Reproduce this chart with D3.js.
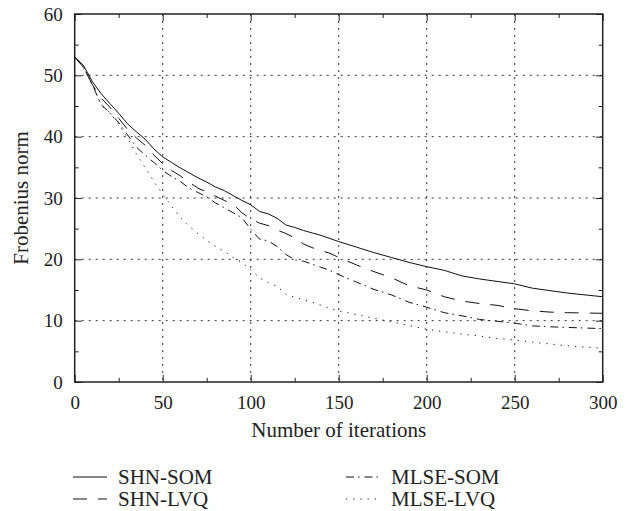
<!DOCTYPE html>
<html lang="en">
<head>
<meta charset="UTF-8">
<title>Frobenius norm</title>
<script src="https://cdn.jsdelivr.net/npm/d3@7"></script>
<style>
  body { margin: 0; background: #fff; }
  text { font-family: "Liberation Serif", "DejaVu Serif", serif; fill: #222; }
  .axis path { display: none; }
  .axis line { stroke: #222; stroke-width: 1; }
</style>
</head>
<body>
<div id="chart"></div>
<script>
// iterations (x) shared by all four curves
var iters = [0,5,10,15,20,25,30,35,40,45,50,55,60,65,70,75,80,85,90,95,100,
    105,110,115,120,125,130,135,140,145,150,160,170,180,190,200,210,220,230,240,250,260,270,280,290,300];

var shnSom  = [53.0,51.6,49.0,47.0,45.4,43.8,42.1,40.8,39.6,38.0,36.7,35.8,34.9,34.1,33.3,32.6,31.8,31.2,30.4,29.6,28.9,
    27.8,27.4,26.7,25.6,25.2,24.7,24.3,23.9,23.4,22.9,22.0,21.1,20.3,19.5,18.8,18.2,17.3,16.8,16.4,16.0,15.3,14.9,14.5,14.2,13.9];
var shnLvq  = [53.0,51.3,48.5,46.3,44.8,43.0,41.2,39.8,38.6,37.0,35.6,34.5,33.6,32.6,31.6,31.0,30.3,29.6,29.0,27.6,26.6,
    25.9,25.5,24.8,24.2,23.5,22.5,21.9,21.4,21.0,20.3,19.1,18.0,17.0,15.7,15.0,13.9,13.2,12.8,12.5,11.95,11.6,11.4,11.3,11.25,11.2];
var mlseSom = [53.0,51.3,48.5,45.2,43.9,42.3,40.3,38.3,37.0,35.8,34.5,33.5,32.7,31.6,30.9,30.2,29.2,28.4,27.6,26.8,24.9,
    23.3,23.0,22.1,20.8,19.9,19.7,19.2,18.7,18.2,17.5,16.3,15.1,14.2,13.0,12.2,11.3,10.8,10.2,9.9,9.6,9.15,9.0,8.9,8.8,8.7];
var mlseLvq = [53.0,51.3,48.5,45.2,43.9,42.0,39.8,37.2,35.0,32.7,30.6,28.7,26.8,25.4,24.2,23.1,22.1,21.3,20.3,19.5,18.3,
    17.0,16.2,15.6,14.3,13.8,13.4,13.0,12.5,12.0,11.6,11.0,10.4,9.8,9.2,8.6,8.2,7.8,7.5,7.1,6.85,6.5,6.2,5.9,5.7,5.5];

var seriesNames = ["SHN-SOM","SHN-LVQ","MLSE-SOM","MLSE-LVQ"];
var seriesVals  = [shnSom, shnLvq, mlseSom, mlseLvq];

var xTicks = [0,50,100,150,200,250,300];
var xMinor = [25,75,125,175,225,275];
var yTicks = [0,10,20,30,40,50,60];
var yMinor = [5,15,25,35,45,55];

// line styles per series
var dashes = ["none", "14,11", "8,4,1.5,5", "1.2,6"];

var width = 633, height = 511;
var margin = {top:14, left:74.7, right:30.3, bottom:129};
var plotW = width - margin.left - margin.right;
var plotH = height - margin.top - margin.bottom;

var svg = d3.select("#chart").append("svg")
    .attr("width", width)
    .attr("height", height);

var g = svg.append("g")
    .attr("transform", "translate(" + margin.left + "," + margin.top + ")");

var x = d3.scaleLinear().domain([0,300]).range([0, plotW]);
var y = d3.scaleLinear().domain([0,60]).range([plotH, 0]);

// dotted grid
g.append("g").selectAll("line").data(xTicks.slice(1,-1)).enter().append("line")
    .attr("x1", function(d){ return x(d); }).attr("x2", function(d){ return x(d); })
    .attr("y1", 0).attr("y2", plotH)
    .attr("stroke", "#333").attr("stroke-width", 1).attr("stroke-dasharray", "2,5");
g.append("g").selectAll("line").data(yTicks.slice(1,-1)).enter().append("line")
    .attr("y1", function(d){ return y(d); }).attr("y2", function(d){ return y(d); })
    .attr("x1", 0).attr("x2", plotW)
    .attr("stroke", "#333").attr("stroke-width", 1).attr("stroke-dasharray", "2,5");

// axes: labelled majors bottom/left, inward ticks everywhere
var bottom = g.append("g").attr("class","axis").attr("transform","translate(0," + plotH + ")")
    .call(d3.axisBottom(x).tickValues(xTicks).tickSizeInner(-7).tickPadding(14).tickFormat(d3.format("d")));
var left = g.append("g").attr("class","axis")
    .call(d3.axisLeft(y).tickValues(yTicks).tickSizeInner(-7).tickPadding(12).tickFormat(d3.format("d")));
g.append("g").attr("class","axis").attr("transform","translate(0," + plotH + ")")
    .call(d3.axisBottom(x).tickValues(xMinor).tickSizeInner(-4).tickFormat(""));
g.append("g").attr("class","axis")
    .call(d3.axisLeft(y).tickValues(yMinor).tickSizeInner(-4).tickFormat(""));
g.append("g").attr("class","axis")
    .call(d3.axisTop(x).tickValues(xTicks).tickSizeInner(-7).tickFormat(""));
g.append("g").attr("class","axis")
    .call(d3.axisTop(x).tickValues(xMinor).tickSizeInner(-4).tickFormat(""));
g.append("g").attr("class","axis").attr("transform","translate(" + plotW + ",0)")
    .call(d3.axisRight(y).tickValues(yTicks).tickSizeInner(-7).tickFormat(""));
g.append("g").attr("class","axis").attr("transform","translate(" + plotW + ",0)")
    .call(d3.axisRight(y).tickValues(yMinor).tickSizeInner(-4).tickFormat(""));

bottom.selectAll("text").attr("font-size", 19).style("font-family", "Liberation Serif");
left.selectAll("text").attr("font-size", 19).style("font-family", "Liberation Serif");

// frame
g.append("rect").attr("x",0).attr("y",0).attr("width",plotW).attr("height",plotH)
    .attr("fill","none").attr("stroke","#222").attr("stroke-width",1.5);

// curves
var line = d3.line()
    .x(function(d,i){ return x(iters[i]); })
    .y(function(d){ return y(d); });

g.append("g").selectAll("path").data(seriesVals).enter().append("path")
    .attr("d", line)
    .attr("fill","none")
    .attr("stroke","#111")
    .attr("stroke-width",1)
    .attr("stroke-dasharray", function(d,i){ return dashes[i]; });

// axis titles
svg.append("text").attr("x", margin.left + plotW/2).attr("y", 437)
    .attr("text-anchor","middle").attr("font-size", 21).text("Number of iterations");
svg.append("text")
    .attr("transform","translate(28," + (margin.top + plotH/2) + ") rotate(-90)")
    .attr("text-anchor","middle").attr("font-size", 21).text("Frobenius norm");

// legend, two columns
var legendPos = [[73,477],[73,499],[346,477],[346,499]];
var lg = svg.append("g").selectAll("g").data(seriesNames).enter().append("g")
    .attr("transform", function(d,i){ return "translate(" + legendPos[i][0] + "," + legendPos[i][1] + ")"; });
lg.append("line").attr("x1",0).attr("x2",34).attr("y1",0).attr("y2",0)
    .attr("stroke","#111").attr("stroke-width",1)
    .attr("stroke-dasharray", function(d,i){ return dashes[i]; });
lg.append("text").attr("x",45).attr("y",0).attr("dy","0.35em")
    .attr("font-size",21).text(function(d){ return d; });
</script>
</body>
</html>
